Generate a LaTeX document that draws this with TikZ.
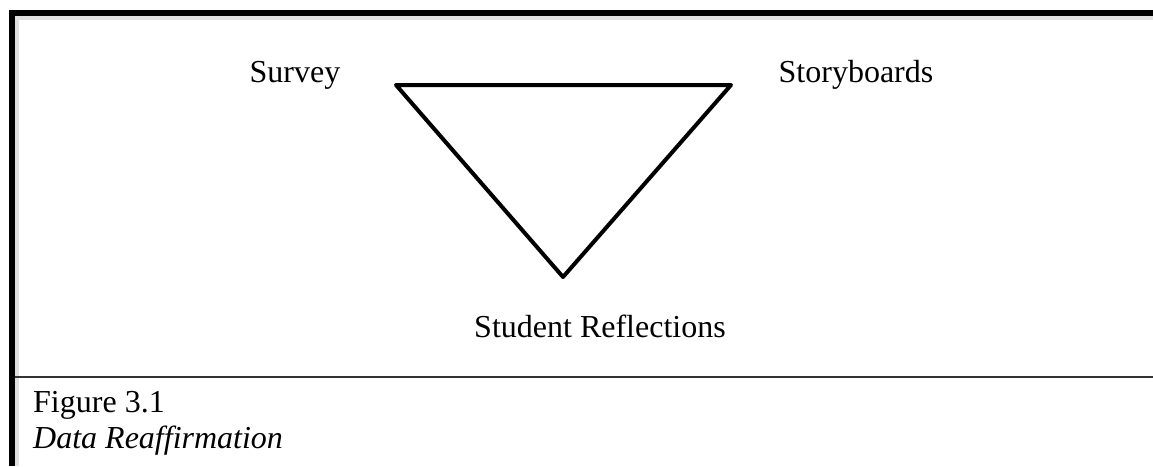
\documentclass[tikz,border=0pt]{standalone}
\usepackage{fontspec}
\setmainfont{Liberation Serif}
\begin{document}
\begin{tikzpicture}[x=1pt,y=-1pt,
  lbl/.style={inner sep=0pt,anchor=base,font=\fontsize{32}{38}\selectfont},
  captext/.style={inner sep=0pt,anchor=base west,font=\fontsize{32}{38}\selectfont},
  frame/.style={line width=6pt,line cap=butt},
  tri/.style={line width=4pt,line join=round,line cap=round}]
\useasboundingbox (0,0) rectangle (1153,466);
% shadow of frame
\fill[black!12] (15,16) rectangle (1153,20);
\fill[black!12] (15,16) rectangle (19,466);
% frame
\draw[frame] (12,466) -- (12,13) -- (1153,13);
\draw[line width=1.6pt,black!80] (15,377) -- (1153,377);
% triangle
\coordinate (A) at (396,85);
\coordinate (B) at (731,85);
\coordinate (C) at (563,277);
\draw[tri] (A) -- (B) -- (C) -- cycle;
% labels
\node[lbl] (survey) at (295,82) {Survey};
\node[lbl] (story) at (856,82) {Storyboards};
\node[lbl] (refl) at (600,337) {Student Reflections};
\node[captext] (fig) at (33,412) {Figure 3.1};
\node[captext] (title) at (33,448) {\itshape Data Reaffirmation};
\end{tikzpicture}
\end{document}
